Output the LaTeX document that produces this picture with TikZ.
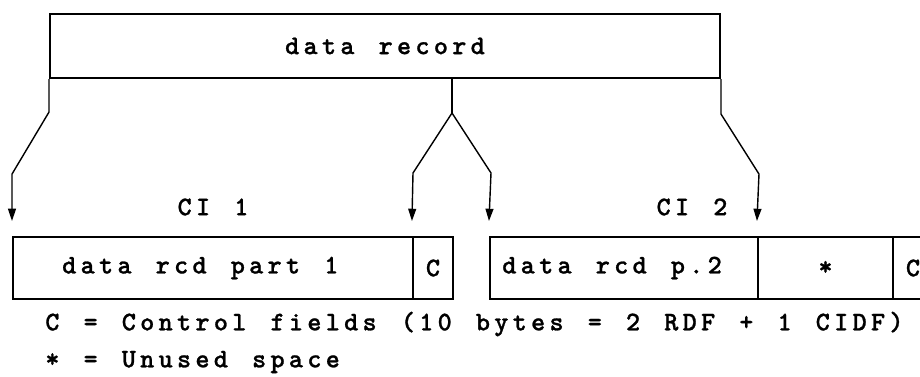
\documentclass[tikz,border=0pt]{standalone}
\usepackage{fontspec}
\usetikzlibrary{arrows.meta}
\usepackage{xcolor}

\newfontfamily\rectt{lmmonolt10-bold.otf}[LetterSpace=16, WordSpace={1.31,0,0}, HyphenChar=None, FakeBold=1]
\newcommand{\recfont}{\rectt\fontsize{15.3}{18}\selectfont}

\begin{document}
\begin{tikzpicture}[x=0.02cm, y=-0.02cm, font=\recfont,
    cell/.style={draw, line width=1.2pt, minimum height=1.24cm, inner sep=0pt},
    link/.style={line width=0.8pt},
    pointer/.style={link, -{Triangle[width=4.5pt, length=7pt]}}]
                \useasboundingbox (0,0) rectangle (920,376);
                \clip (0,0) rectangle (920,376);

                % レコード全体
                \node[cell, minimum width=13.4cm, minimum height=1.28cm] (rec) at (385,46) {data record};

                % CI 1
                \node (ci1) at (213,207) {CI 1};
                \node[cell, minimum width=8cm] (part1) at (213,268) {};
                \node[anchor=west, inner sep=0pt] (part1txt) at ([xshift=28.4pt]part1.west) {data rcd part 1};
                \node[cell, minimum width=0.8cm] (c1) at (433,268) {C};

                % CI 2
                \node (ci2) at (692,207) {CI 2};
                \node[cell, minimum width=5.36cm] (part2) at (624,268) {};
                \node[anchor=west, inner sep=0pt] (part2txt) at ([xshift=7.4pt]part2.west) {data rcd p.2};
                \node[cell, minimum width=2.7cm] (unused) at (825.5,268) {*};
                \node[cell, minimum width=0.8cm] (c2) at (913,268) {C};

                % 左右の矢印
                \draw[pointer] (rec.south west) -- ++(0,33) -- ++(-37,62) -- ([yshift=8.5pt]part1.north west);
                \draw[pointer] (rec.south east) -- ++(0,35) -- ++(38,60) -- ([yshift=8.5pt]unused.north west);

                % 中央の分岐
                \coordinate (fork) at (452,113);
                \draw[link] (rec.south -| fork) -- (fork);
                \draw[pointer] (fork) -- ++(-39,60) -- ([yshift=8.5pt]c1.north west);
                \draw[pointer] (fork) -- ++(39,60) -- ([yshift=8.5pt]part2.north west);

                % 凡例
                \node[anchor=west, inner sep=0pt] (legc) at (45,324) {C = Control fields (10 bytes = 2 RDF + 1 CIDF)};
                \node[anchor=west, inner sep=0pt] (legu) at (45,362) {* = Unused space};

            \end{tikzpicture}
\end{document}
